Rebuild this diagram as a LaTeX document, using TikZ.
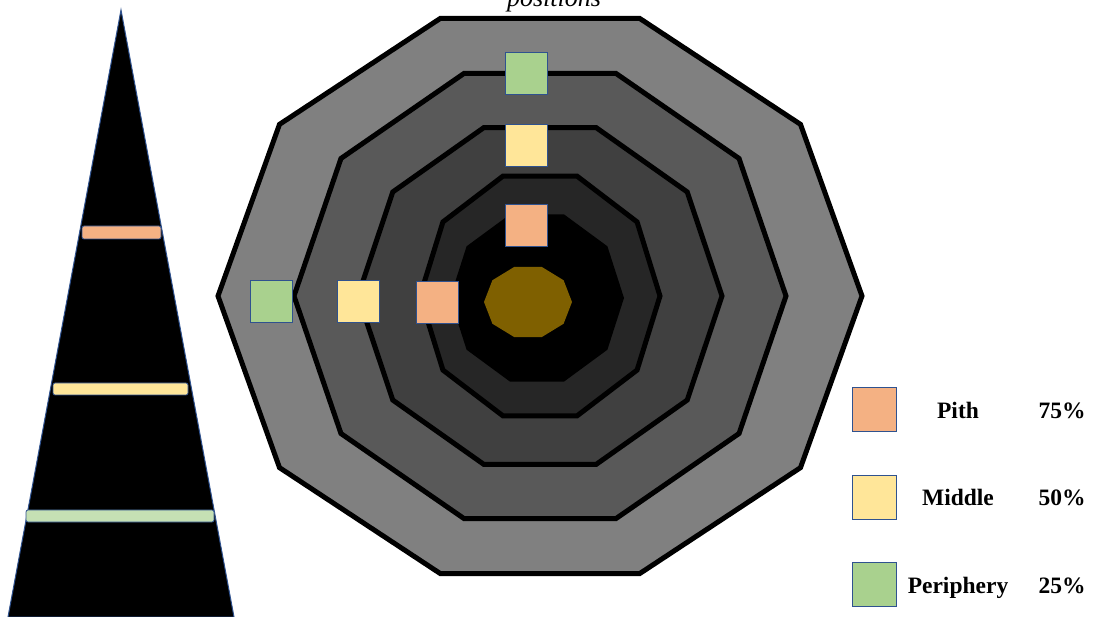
\documentclass[tikz,border=0pt]{standalone}
\usepackage{fontspec}
\setmainfont{Liberation Serif}
\usetikzlibrary{positioning}

\definecolor{pithcol}{HTML}{F4B183}
\definecolor{midcol}{HTML}{FFE699}
\definecolor{pericol}{HTML}{A9D18E}
\definecolor{barpericol}{HTML}{C5E0B4}
\definecolor{edgecol}{HTML}{2F528F}
\definecolor{corecol}{HTML}{7F6000}

\begin{document}
\begin{tikzpicture}[
    x=1pt, y=-1pt,
    ring/.style={draw=black, line width=5pt, line join=miter},
    sample/.style={draw=edgecol, line width=1pt, minimum size=42pt, inner sep=0pt},
    bar/.style={draw=edgecol, line width=0.8pt, rounded corners=2pt},
    legtext/.style={font=\fontsize{23.5}{28}\selectfont\bfseries, anchor=base, inner sep=0pt}
]
\useasboundingbox (0,0) rectangle (1093,617);
\clip (0,0) rectangle (1093,617);

% stem with the three heights
\draw[draw=edgecol, line width=1pt, fill=black] (121,10) -- (234,617) -- (8,617) -- cycle;
\draw[bar, fill=pithcol] (82,226) rectangle (161,239);
\draw[bar, fill=midcol] (53,383) rectangle (188,395);
\draw[bar, fill=barpericol] (26,510) rectangle (214,522);

% cross section, outer ring first
\draw[ring, fill=black!50, shift={(540,296)}] (0:322 and 292)
    \foreach \a in {36,72,...,324} { -- (\a:322 and 292) } -- cycle;
\draw[ring, fill=black!65, shift={(540,296)}] (0:246 and 234)
    \foreach \a in {36,72,...,324} { -- (\a:246 and 234) } -- cycle;
\draw[ring, fill=black!75, shift={(540,296)}] (0:182 and 177)
    \foreach \a in {36,72,...,324} { -- (\a:182 and 177) } -- cycle;
\draw[ring, fill=black!85, shift={(540,296)}] (0:120 and 126)
    \foreach \a in {36,72,...,324} { -- (\a:120 and 126) } -- cycle;
\fill[black, shift={(537,298)}] (0:87 and 88)
    \foreach \a in {36,72,...,324} { -- (\a:87 and 88) } -- cycle;
\fill[corecol, shift={(528,302)}] (0:44 and 37)
    \foreach \a in {36,72,...,324} { -- (\a:44 and 37) } -- cycle;

% sampling positions
\node[sample, fill=pericol] (pertop) at (526.5,73.5) {};
\node[sample, fill=midcol] (midtop) at (526.5,146) {};
\node[sample, fill=pithcol] (pithtop) at (526.5,225.5) {};
\node[sample, fill=pericol] (perleft) at (271,302) {};
\node[sample, fill=midcol] (midleft) at (358,302) {};
\node[sample, fill=pithcol] (pithleft) at (437,302.5) {};

\node[font=\fontsize{26}{30}\selectfont\itshape, anchor=base, inner sep=0pt] (title) at (554,7) {positions};

% legend
\node[sample, fill=pithcol, minimum size=44pt] (legpith) at (874,410) {};
\node[sample, fill=midcol, minimum size=44pt] (legmid) at (874,497.5) {};
\node[sample, fill=pericol, minimum size=44pt] (legperi) at (874,584.5) {};
\node[legtext] (pithlab) at (958,419) {Pith};
\node[legtext] (midlab) at (958,506) {Middle};
\node[legtext] (perilab) at (958,593) {Periphery};
\node[legtext] (pithval) at (1062,419) {75\%};
\node[legtext] (midval) at (1062,506) {50\%};
\node[legtext] (perival) at (1062,593) {25\%};
\end{tikzpicture}
\end{document}
